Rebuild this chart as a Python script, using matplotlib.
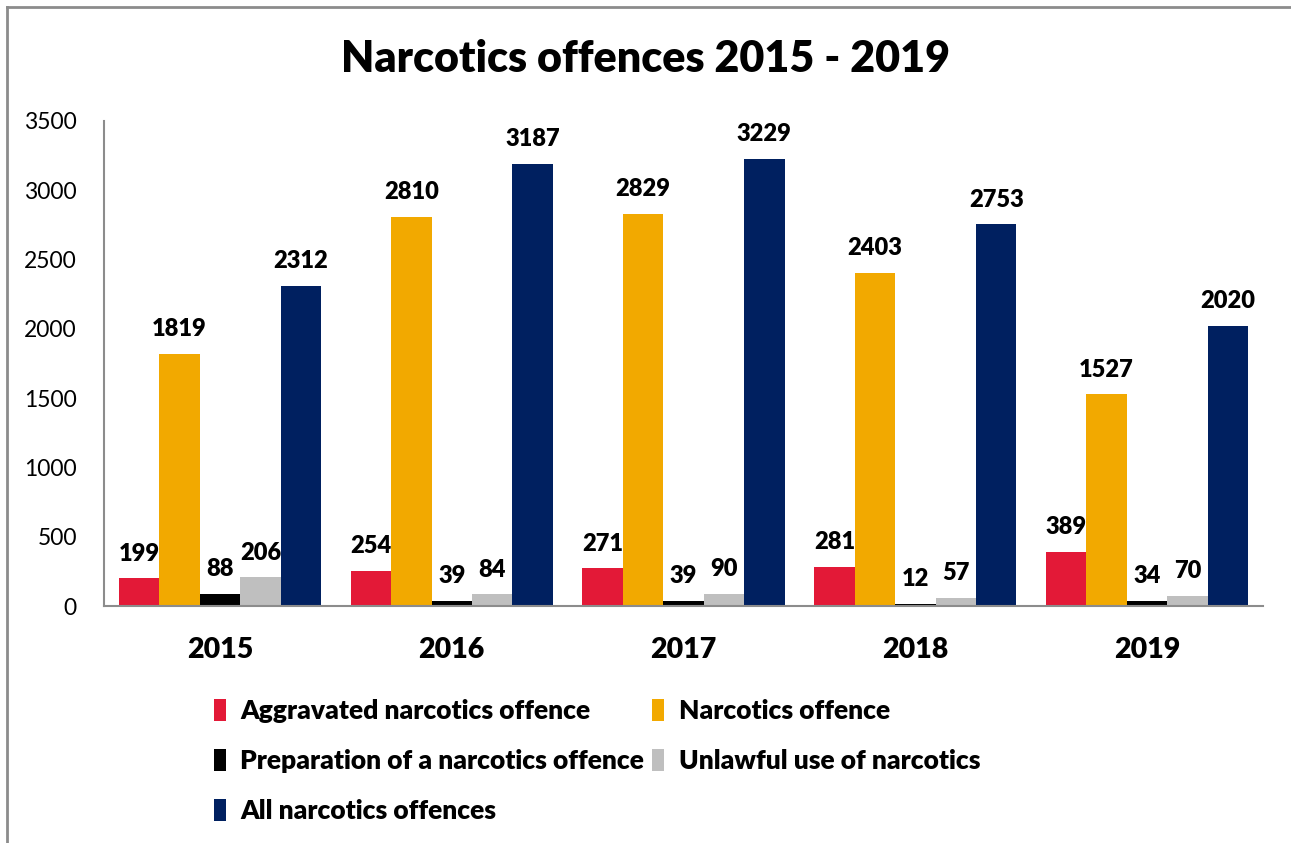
import numpy as np
import matplotlib
matplotlib.use("Agg")
from matplotlib import pyplot as plt
from matplotlib.lines import Line2D

years = ["2015", "2016", "2017", "2018", "2019"]
series_names = ["Aggravated narcotics offence", "Narcotics offence",
                "Preparation of a narcotics offence", "Unlawful use of narcotics",
                "All narcotics offences"]
aggravated = [199, 254, 271, 281, 389]
narcotics = [1819, 2810, 2829, 2403, 1527]
preparation = [88, 39, 39, 12, 34]
unlawful_use = [206, 84, 90, 57, 70]
all_offences = [2312, 3187, 3229, 2753, 2020]
colors = ["#E31937", "#F2A900", "#000000", "#BFBFBF", "#002060"]

plt.rcParams['font.family'] = ['Lato', 'DejaVu Sans']
bold = "heavy"

fig = plt.figure(figsize=(12.91, 8.43), dpi=100)
ax = fig.add_axes([0.0806, 0.2811, 0.8977, 0.5754])

# outer frame (left and top only)
fig.add_artist(Line2D([0.0054, 0.0054], [0, 0.9917], transform=fig.transFigure, color="#8c8c8c", lw=2))
fig.add_artist(Line2D([0.0054, 1.0], [0.9917, 0.9917], transform=fig.transFigure, color="#8c8c8c", lw=2))

data = [aggravated, narcotics, preparation, unlawful_use, all_offences]
x = np.arange(len(years))
w = 0.1745
bars = []
for i, (vals, c, name) in enumerate(zip(data, colors, series_names)):
    b = ax.bar(x + (i - 2) * w, vals, w, color=c, label=name)
    bars.append(b)
    for xi, v in zip(x + (i - 2) * w, vals):
        ax.annotate(str(v), (xi, v), xytext=(0, 10), textcoords="offset points",
                    ha="center", va="bottom", fontsize=17, fontweight=bold)

ax.set_xlim(-0.5, 4.5)
ax.set_ylim(0, 3500)
ax.set_yticks(range(0, 3501, 500))
ax.set_xticks(x)
ax.set_xticklabels(years, fontsize=20.5, fontweight=bold)
ax.tick_params(axis="x", length=0, pad=22)
ax.tick_params(axis="y", length=0, labelsize=16.5, pad=19.5)
for s in ["top", "right"]:
    ax.spines[s].set_visible(False)
for s in ["left", "bottom"]:
    ax.spines[s].set_color("#8c8c8c")
    ax.spines[s].set_linewidth(1.5)

fig.text(0.5, 0.93, "Narcotics offences 2015 - 2019", ha="center", va="center",
         fontsize=31, fontweight=bold)

order = [0, 2, 4, 1, 3]
fig.legend([bars[i] for i in order], [series_names[i] for i in order],
           loc="upper left", bbox_to_anchor=(0.1555, 0.186), ncol=2, frameon=False,
           prop={"size": 19, "weight": bold}, handlelength=0.45, handleheight=0.9,
           handletextpad=0.55, columnspacing=0.3, labelspacing=0.98, borderpad=0)

fig.savefig("out.png", dpi=100)
